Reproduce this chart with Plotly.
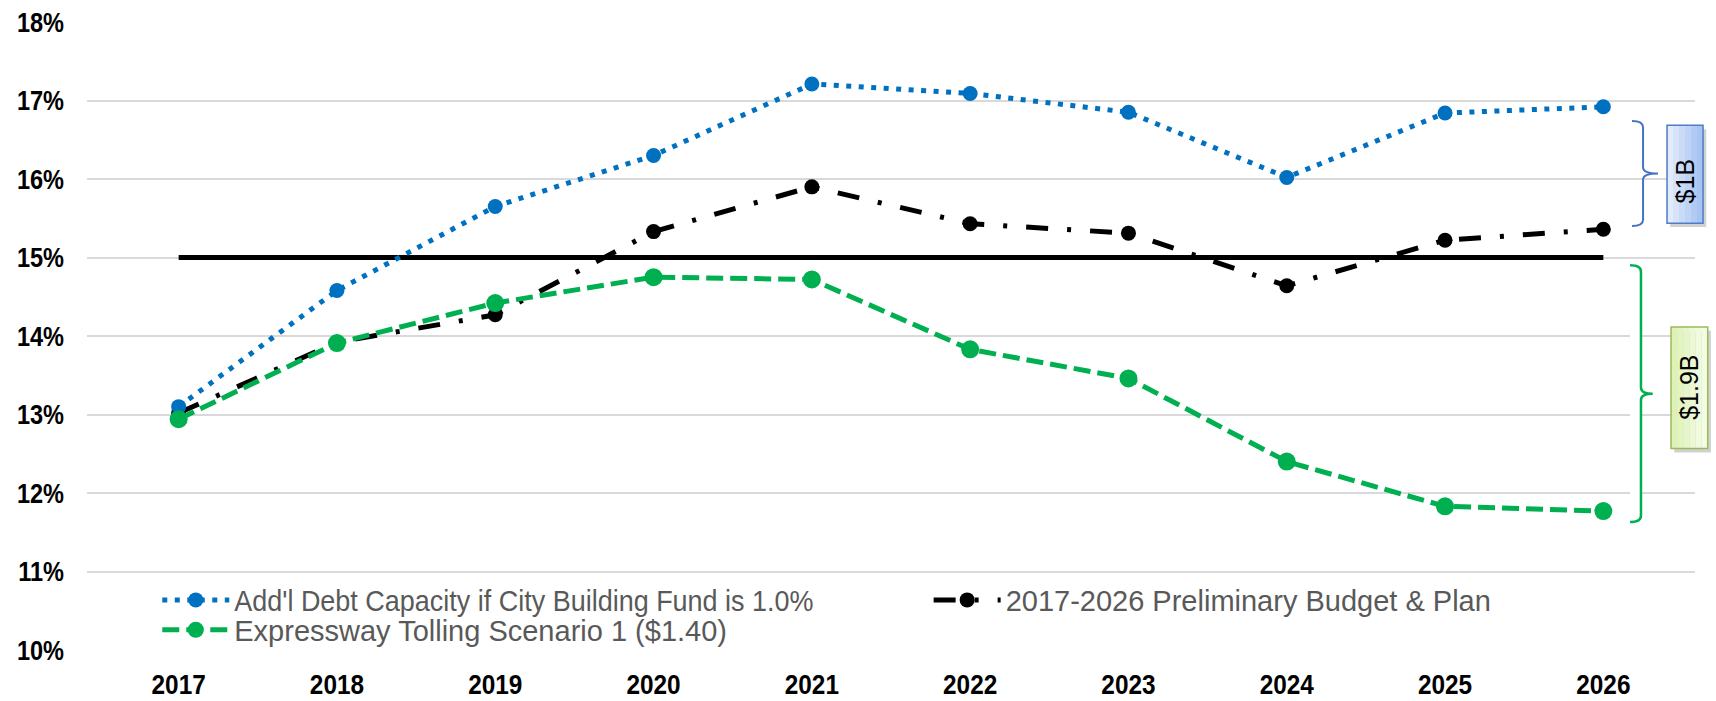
import plotly.graph_objects as go

# ---- data -------------------------------------------------------------
years = ["2017", "2018", "2019", "2020", "2021", "2022", "2023", "2024", "2025", "2026"]
addl_capacity = [13.10, 14.58, 15.65, 16.30, 17.21, 17.09, 16.85, 16.02, 16.84, 16.92]
prelim_budget = [13.02, 13.92, 14.27, 15.33, 15.90, 15.43, 15.31, 14.64, 15.22, 15.36]
tolling = [12.94, 13.91, 14.42, 14.75, 14.72, 13.83, 13.46, 12.40, 11.83, 11.77]
policy_limit = [15, 15, 15, 15, 15, 15, 15, 15, 15, 15]

y_ticks = [10, 11, 12, 13, 14, 15, 16, 17, 18]
y_tick_labels = ["10%", "11%", "12%", "13%", "14%", "15%", "16%", "17%", "18%"]

name_addl = "Add'l Debt Capacity if City Building Fund is 1.0%"
name_prelim = "2017-2026 Preliminary Budget & Plan"
name_toll = "Expressway Tolling Scenario 1 ($1.40)"

BLUE = "#0070C0"
GREEN = "#00B050"
BLACK = "#000000"

SANS = "Liberation Sans, Arial, sans-serif"

fig = go.Figure()

# 15% policy limit
fig.add_trace(go.Scatter(
    x=years, y=policy_limit, mode="lines",
    line=dict(color=BLACK, width=5), showlegend=False, hoverinfo="skip",
))

fig.add_trace(go.Scatter(
    x=years, y=prelim_budget, name=name_prelim, mode="lines+markers",
    line=dict(color=BLACK, width=5, dash="22px,19px,4px,19px"),
    marker=dict(symbol="circle", size=15, color=BLACK),
    legend="legend2",
))

fig.add_trace(go.Scatter(
    x=years, y=addl_capacity, name=name_addl, mode="lines+markers",
    line=dict(color=BLUE, width=5, dash="5px,7.5px"),
    marker=dict(symbol="circle", size=15, color=BLUE),
    legend="legend",
))

fig.add_trace(go.Scatter(
    x=years, y=tolling, name=name_toll, mode="lines+markers",
    line=dict(color=GREEN, width=5, dash="17px,7px"),
    marker=dict(symbol="circle", size=18, color=GREEN),
    legend="legend3",
))

legend_common = dict(
    orientation="h", xanchor="left", yanchor="middle",
    bgcolor="rgba(0,0,0,0)", borderwidth=0, itemwidth=67,
    font=dict(family=SANS, size=29, color="#595959"),
)

# ---- brackets and value boxes -----------------------------------------
def brace(x_end, x_spine, x_tip, y_top, y_bot, r):
    y_mid = (y_top + y_bot) / 2
    return (
        f"M {x_end},{y_top} Q {x_spine},{y_top} {x_spine},{y_top - r} "
        f"L {x_spine},{y_mid + r} Q {x_spine},{y_mid} {x_tip},{y_mid} "
        f"Q {x_spine},{y_mid} {x_spine},{y_mid - r} "
        f"L {x_spine},{y_bot + r} Q {x_spine},{y_bot} {x_end},{y_bot}"
    )

shapes = [
    dict(type="path", xref="paper", yref="y",
         path=brace(0.9608, 0.9677, 0.9770, 16.74, 15.40, 0.08),
         line=dict(color="#4472C4", width=2)),
    dict(type="path", xref="paper", yref="y",
         path=brace(0.9596, 0.9664, 0.9737, 14.90, 11.63, 0.08),
         line=dict(color=GREEN, width=2.5), fillcolor="white"),
]

n_steps = 6

# $1B box: drop shadow, horizontal gradient, border
bx0, bx1, by0, by1 = 0.9826, 1.0050, 15.437, 16.685
shapes.append(dict(type="rect", xref="paper", yref="y",
                   x0=bx0 + 0.002, x1=bx1 + 0.002, y0=by0 - 0.05, y1=by1 - 0.05,
                   line=dict(width=0), fillcolor="rgba(0,0,0,0.18)"))
blue_steps = ["#E2EBFB", "#D6E3F9", "#CADBF8", "#BED3F6", "#B2CBF4", "#A8C4F2"]
for i, c in enumerate(blue_steps):
    shapes.append(dict(type="rect", xref="paper", yref="y",
                       x0=bx0 + (bx1 - bx0) * i / n_steps,
                       x1=bx0 + (bx1 - bx0) * (i + 1) / n_steps,
                       y0=by0, y1=by1, line=dict(width=0), fillcolor=c))
shapes.append(dict(type="rect", xref="paper", yref="y",
                   x0=bx0, x1=bx1, y0=by0, y1=by1,
                   line=dict(color="#4F7CC7", width=1.5)))

# $1.9B box
gx0, gx1, gy0, gy1 = 0.9851, 1.0079, 12.567, 14.116
shapes.append(dict(type="rect", xref="paper", yref="y",
                   x0=gx0 + 0.002, x1=gx1 + 0.002, y0=gy0 - 0.05, y1=gy1 - 0.05,
                   line=dict(width=0), fillcolor="rgba(0,0,0,0.18)"))
green_steps = ["#DDF2B4", "#E2F4BF", "#E7F6C9", "#ECF8D3", "#F0FADC", "#F3FBE3"]
for i, c in enumerate(green_steps):
    shapes.append(dict(type="rect", xref="paper", yref="y",
                       x0=gx0 + (gx1 - gx0) * i / n_steps,
                       x1=gx0 + (gx1 - gx0) * (i + 1) / n_steps,
                       y0=gy0, y1=gy1, line=dict(width=0), fillcolor=c))
shapes.append(dict(type="rect", xref="paper", yref="y",
                   x0=gx0, x1=gx1, y0=gy0, y1=gy1,
                   line=dict(color="#9BBB59", width=1.5)))

annotations = [
    dict(xref="paper", yref="y", x=0.9938, y=15.97, text="$1B", showarrow=False,
         xanchor="center", yanchor="middle",
         textangle=-90, font=dict(family=SANS, size=25, color=BLACK)),
    dict(xref="paper", yref="y", x=0.9963, y=13.34, text="$1.9B", showarrow=False,
         xanchor="center", yanchor="middle",
         textangle=-90, font=dict(family=SANS, size=25, color=BLACK)),
]

fig.update_layout(
    width=1716, height=701,
    margin=dict(l=87, r=21, t=22, b=51),
    paper_bgcolor="white", plot_bgcolor="white",
    legend=dict(legend_common, x=0.0437, y=0.0795),
    legend2=dict(legend_common, x=0.5234, y=0.0795),
    legend3=dict(legend_common, x=0.0437, y=0.032),
    xaxis=dict(
        type="category", showgrid=False, zeroline=False, showline=False,
        ticks="", ticklabelstandoff=15, automargin=False,
        tickfont=dict(family=SANS, size=28, color=BLACK, weight="bold"),
    ),
    yaxis=dict(
        range=[10, 18], tickmode="array", tickvals=y_ticks, ticktext=y_tick_labels,
        showgrid=True, gridcolor="#D9D9D9", gridwidth=1.5,
        zeroline=False, showline=False, ticks="", ticklabelstandoff=22,
        automargin=False,
        tickfont=dict(family=SANS, size=28, color=BLACK, weight="bold"),
    ),
    shapes=shapes,
    annotations=annotations,
)

# Axis and legend text is set in a narrow face: condense the glyphs of the
# rendered labels so they keep their height but take narrow-font widths.
condense_js = """
var gd = document.getElementById('{plot_id}');
function condense() {
  var groups = [['.xtick text', 0.87], ['.ytick text', 0.84], ['.legendtext', 0.93]];
  groups.forEach(function (g) {
    gd.querySelectorAll(g[0]).forEach(function (t) {
      if (!t.dataset.w) { t.dataset.w = t.getComputedTextLength(); }
      t.setAttribute('textLength', (parseFloat(t.dataset.w) * g[1]).toFixed(1));
      t.setAttribute('lengthAdjust', 'spacingAndGlyphs');
    });
  });
}
condense();
gd.on('plotly_afterplot', condense);
"""

fig.write_html("out.html", post_script=condense_js)
